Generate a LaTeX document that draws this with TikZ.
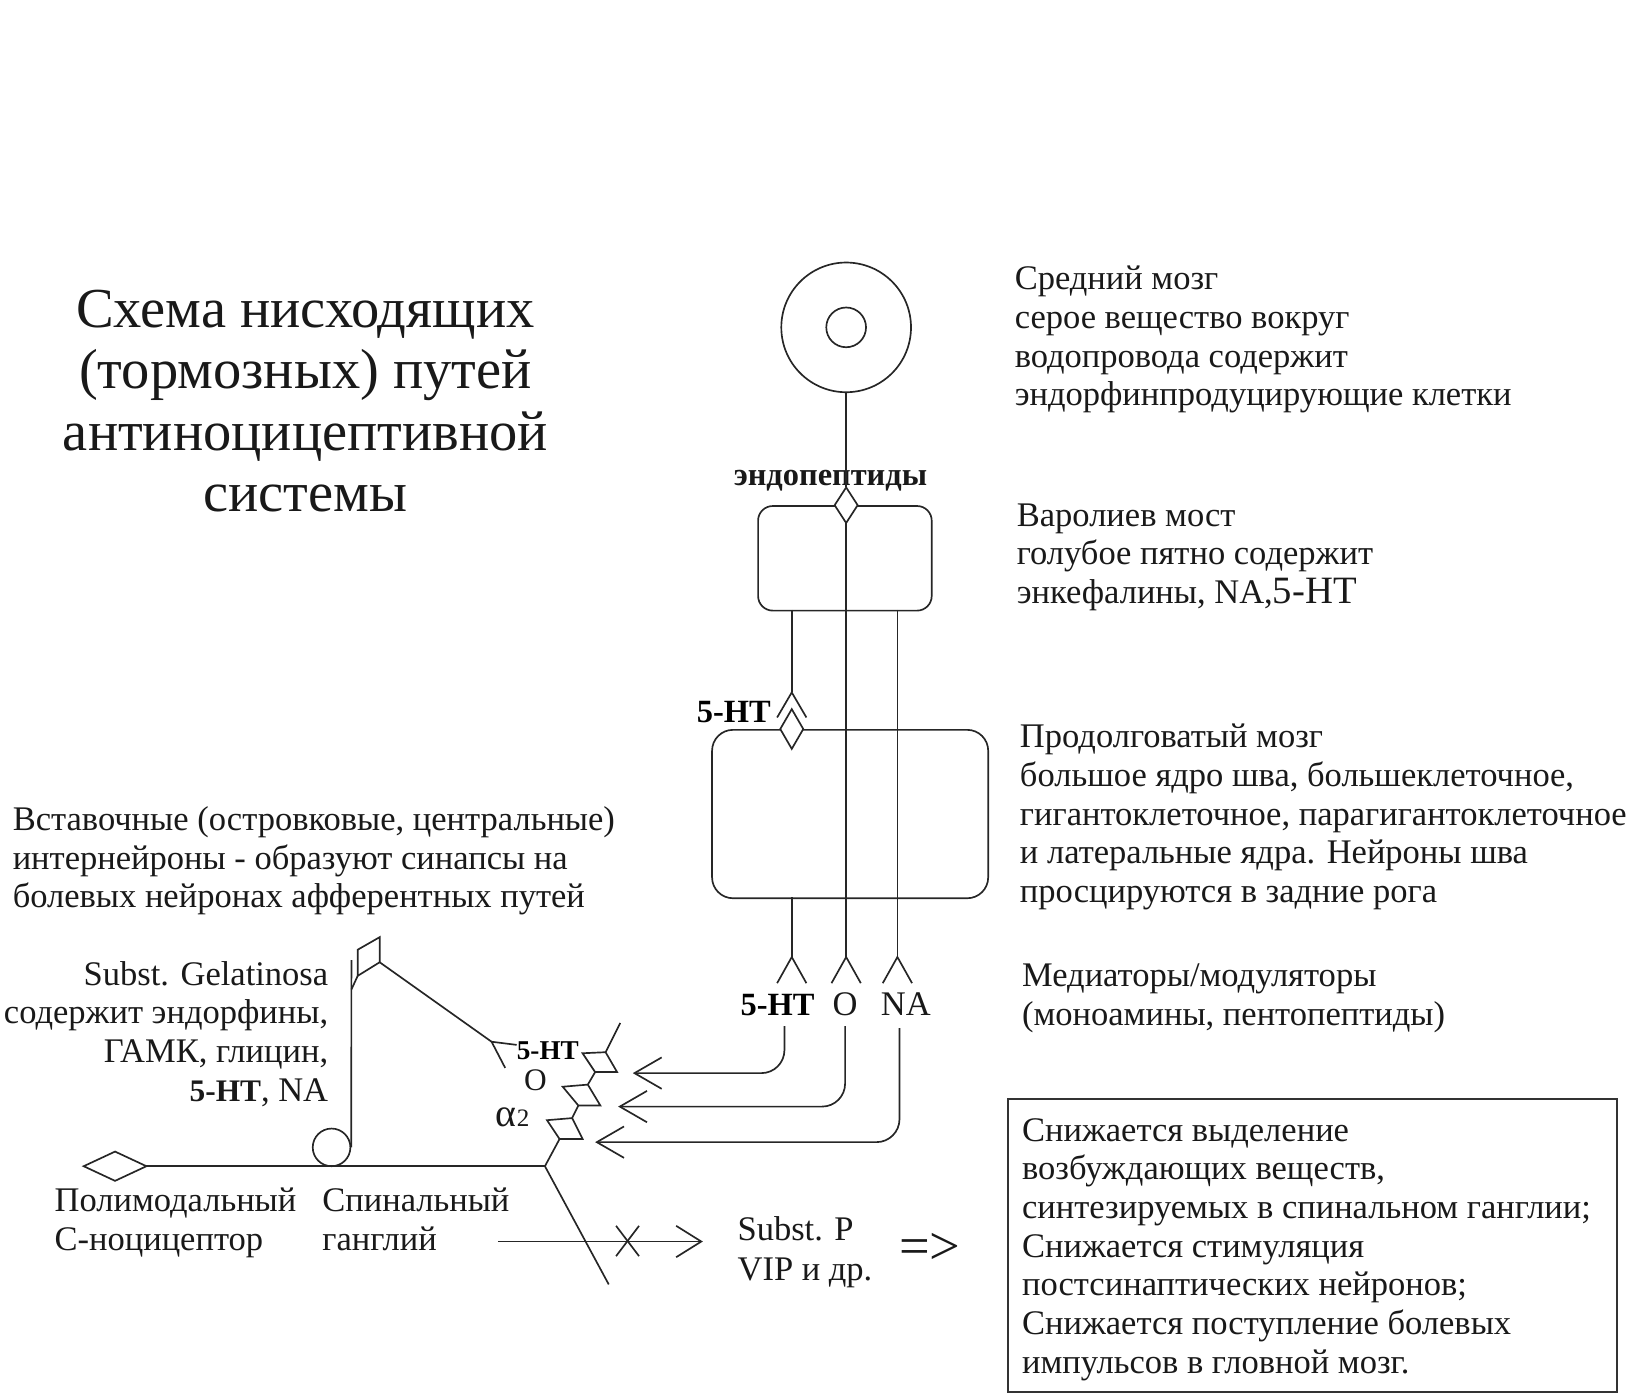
\documentclass[tikz,border=0pt]{standalone}
\usepackage{fontspec}
\setmainfont{Liberation Serif}
\usetikzlibrary{arrows.meta}
\newcommand\tblock[6]{\foreach \tx [count=\i] in {#6} {\node[txt, anchor=#2] (#1\i) at (#3,{#4+#5*(\i-1)}) {\tx};}}
\begin{document}
\begin{tikzpicture}[x=1pt,y=-1pt,
  ln/.style={draw=black!85, line width=1.6pt},
  txt/.style={font=\fontsize{33}{37}\selectfont, inner sep=0pt, text=black!90},
  ttl/.style={font=\fontsize{54}{58}\selectfont, inner sep=0pt, text=black!90},
  bl/.style={font=\fontsize{31}{37}\selectfont\bfseries, inner sep=0pt, text=black},
  barb/.style={-{Straight Barb[length=26pt,width=30pt]}},
  ]
\useasboundingbox (0,0) rectangle (1568,1335);
% title
\foreach \tx [count=\i] in {Схема нисходящих,(тормозных) путей,антиноцицептивной,системы}
  {\node[ttl, anchor=base] (title\i) at (292,{313+58.7*(\i-1)}) {\tx};}
% right texts
\tblock{mid}{base west}{970}{277}{37}{Средний мозг,серое вещество вокруг,водопровода содержит,эндорфинпродуцирующие клетки}
\tblock{pon}{base west}{972}{503}{37}{Варолиев мост,голубое пятно содержит,{энкефалины, NA,{\fontsize{37}{37}\selectfont 5-HT}}}
\tblock{obl}{base west}{975}{715}{37}{Продолговатый мозг,{большое ядро шва, большеклеточное,},{гигантоклеточное, парагигантоклеточное},и латеральные ядра. Нейроны шва,просцируются в задние рога}
\tblock{medi}{base west}{977}{943}{37}{Медиаторы/модуляторы,{(моноамины, пентопептиды)}}
\tblock{res}{base west}{977}{1091}{37}{Снижается выделение,{возбуждающих веществ,},синтезируемых в спинальном ганглии;,Снижается стимуляция,постсинаптических нейронов;,Снижается поступление болевых,импульсов в гловной мозг.}
\node[draw=black!80, line width=1.5pt, minimum width=582, minimum height=280, anchor=north west, inner sep=0] (resbox) at (963,1050) {};
% left texts
\tblock{ins}{base west}{12}{794}{37}{{Вставочные (островковые, центральные)},интернейроны - образуют синапсы на,болевых нейронах афферентных путей}
\tblock{gel}{base east}{314}{942}{37}{Subst. Gelatinosa,{содержит эндорфины,},{ГАМК, глицин,},{{\bfseries\fontsize{30}{37}\selectfont 5-HT}, NA}}
\tblock{pol}{base west}{52}{1158}{38}{Полимодальный,С-ноцицептор}
\tblock{spin}{base west}{308}{1158}{38}{Спинальный,ганглий}
\tblock{sp}{base west}{705}{1186}{38}{Subst. P,VIP и др.}
\node[txt, font=\fontsize{52}{52}\selectfont, anchor=base] (impl) at (889,1209) {=>};
% midbrain
\node[circle, ln, minimum size=124pt, inner sep=0] (midc) at (809,313) {};
\node[circle, ln, minimum size=38pt, inner sep=0] (aq) at (809,313) {};
\node[txt, font=\fontsize{31}{37}\selectfont\bfseries, anchor=base] (endo) at (794,464) {эндопептиды};
% pons
\node[ln, rounded corners=14pt, minimum width=166pt, minimum height=100pt, anchor=north west, inner sep=0] (pons) at (724,483) {};
\draw[ln] (midc.south) -- (809,466);
\draw[ln, fill=white] (809,466) -- (820,483) -- (809,500) -- (798,483) -- cycle;
% medulla
\node[ln, rounded corners=20pt, minimum width=264pt, minimum height=161pt, anchor=north west, inner sep=0] (med) at (680,697) {};
\draw[ln] (757,583) -- (757,662);
\draw[ln] (743,686) -- (757,662) -- (771,686);
\draw[ln, fill=white] (757,678) -- (768,697) -- (757,716) -- (746,697) -- cycle;
\node[bl, anchor=base west] (ht1) at (666,691) {5-HT};
% descending lines
\draw[ln] (809,500) -- (809,915);
\draw[ln] (858,583) -- (858,915);
\draw[ln] (757,858) -- (757,915);
\foreach \xx in {757,809,858} {\draw[ln] (\xx-14,940) -- (\xx,915) -- (\xx+14,940);}
\node[bl, anchor=base west] (ht2) at (708,971) {5-HT};
\node[txt, anchor=base] (lo) at (808,971) {O};
\node[txt, anchor=base] (lna) at (866,971) {NA};
\draw[ln, rounded corners=22pt, barb] (750,981) |- (605,1026);
\draw[ln, rounded corners=22pt, barb] (808,981) |- (591,1058);
\draw[ln, rounded corners=22pt, barb] (860,983) |- (569,1092);
% synaptic chain
\draw[ln] (593,978) -- (579,1006);
\draw[ln] (557,1007) -- (579,1006) -- (590,1025) -- (569,1025) -- cycle;
\draw[ln] (569,1025) -- (562,1037);
\draw[ln] (538,1039) -- (562,1037) -- (574,1057) -- (553,1057) -- cycle;
\draw[ln] (553,1057) -- (547,1069);
\draw[ln] (523,1071) -- (547,1069) -- (557,1089) -- (535,1089) -- cycle;
\draw[ln] (535,1089) -- (521,1115);
\node[bl, font=\fontsize{26}{30}\selectfont\bfseries, anchor=base west] (ht3) at (494,1013) {5-HT};
\node[txt, font=\fontsize{30}{30}\selectfont, anchor=base] (lo2) at (512,1043) {O};
\node[txt, font=\fontsize{38}{38}\selectfont, anchor=base west] (la2) at (474,1077) {α{\fontsize{24}{24}\selectfont 2}};
% afferent
\draw[ln] (80,1115) -- (110,1101) -- (140,1115) -- (110,1129) -- cycle;
\draw[ln] (140,1115) -- (521,1115);
\node[circle, ln, minimum size=36pt, inner sep=0] (gang) at (317,1097) {};
\draw[ln] (gang.east) -- (336,918);
\draw[ln] (342,908) -- (363,896) -- (363,920) -- (342,933) -- cycle;
\draw[ln] (336,946) -- (342,933);
\draw[ln] (363,920) -- (470,996);
\draw[ln] (494,999) -- (470,996) -- (483,1021);
\draw[ln] (521,1115) -- (582,1228);
\draw[ln, -{Straight Barb[length=24pt,width=30pt]}] (476,1187) -- (672,1187);
\draw[ln] (589,1172) -- (611,1201);
\draw[ln] (611,1172) -- (589,1201);
\end{tikzpicture}
\end{document}
